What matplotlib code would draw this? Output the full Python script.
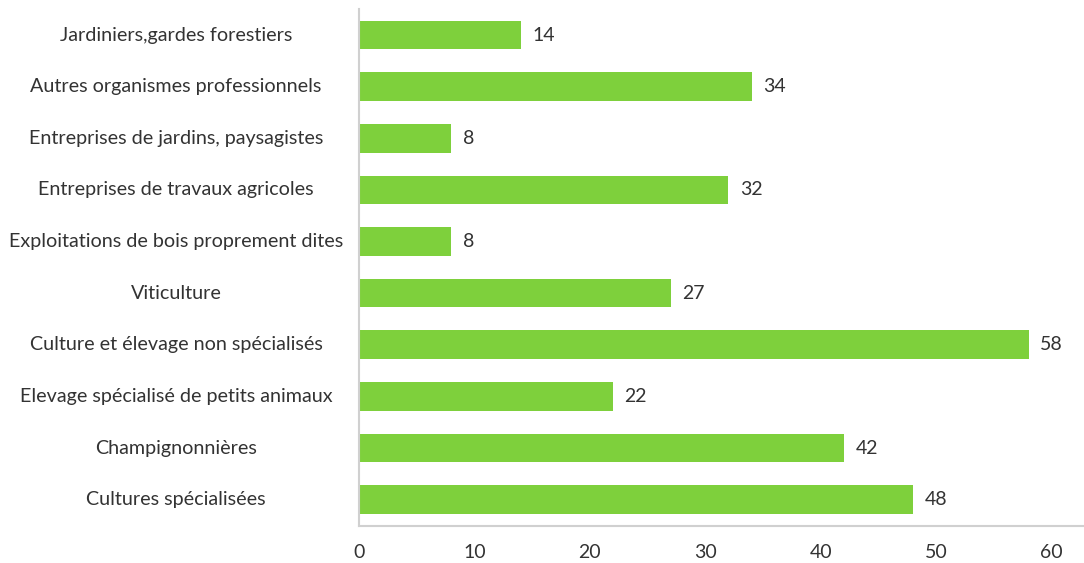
import matplotlib
matplotlib.use("Agg")
import matplotlib.pyplot as plt

categories = [
    "Jardiniers,gardes forestiers",
    "Autres organismes professionnels",
    "Entreprises de jardins, paysagistes",
    "Entreprises de travaux agricoles",
    "Exploitations de bois proprement dites",
    "Viticulture",
    "Culture et élevage non spécialisés",
    "Elevage spécialisé de petits animaux",
    "Champignonnières",
    "Cultures spécialisées",
]
values = [14, 34, 8, 32, 8, 27, 58, 22, 42, 48]
xticks = [0, 10, 20, 30, 40, 50, 60]

plt.rcParams['font.family'] = ['Lato', 'DejaVu Sans']
text_color = '#333333'
bar_color = '#7ED03C'
spine_color = '#D0D0D0'

fig = plt.figure(figsize=(10.84, 5.63), dpi=100)
ax = fig.add_axes([359/1084, 37.5/563, (1084-359)/1084, (525.5-9.2)/563])

n = len(categories)
ypos = list(range(n))[::-1]
ax.barh(ypos, values, height=0.555, color=bar_color)
ax.set_ylim(-0.5, n - 0.5)
ax.set_xlim(0, 62.8)
ax.set_xticks(xticks)
ax.set_xticklabels([str(t) for t in xticks], fontsize=14, color=text_color)
ax.tick_params(axis='x', length=0, pad=13)
ax.set_yticks([])

for y, v in zip(ypos, values):
    ax.text(v + 1.0, y, str(v), va='center', ha='left', fontsize=14, color=text_color)

for y, c in zip(ypos, categories):
    ax.text(-0.2524, y, c, transform=ax.get_yaxis_transform(), va='center', ha='center',
            fontsize=14.2, color=text_color)

for s in ['top', 'right']:
    ax.spines[s].set_visible(False)
for s in ['left', 'bottom']:
    ax.spines[s].set_color(spine_color)
    ax.spines[s].set_linewidth(1.5)

fig.savefig('out.png', dpi=100)
